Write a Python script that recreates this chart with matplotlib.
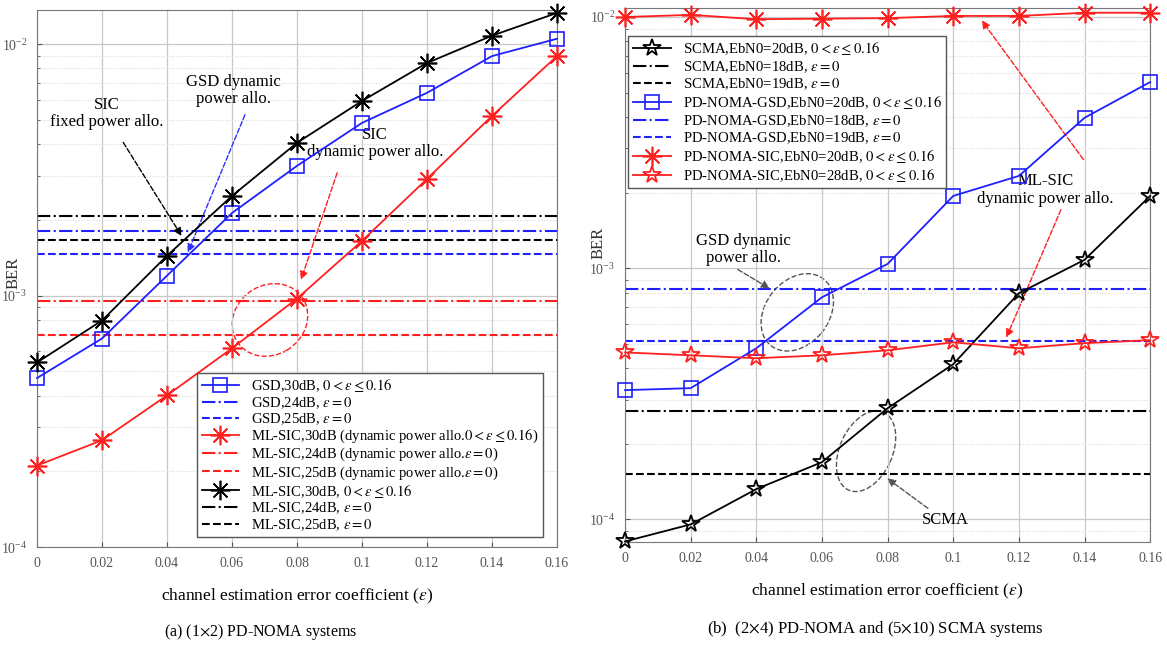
import numpy as np
import matplotlib
matplotlib.use("Agg")
import matplotlib.pyplot as plt
from matplotlib.patches import Ellipse
from matplotlib.ticker import LogLocator, NullFormatter

plt.rcParams['font.family'] = ['Liberation Serif', 'DejaVu Serif']
plt.rcParams['mathtext.fontset'] = 'stix'

# eje x comun
eps = [0, 0.02, 0.04, 0.06, 0.08, 0.10, 0.12, 0.14, 0.16]
eps_labels = ['0', '0.02', '0.04', '0.06', '0.08', '0.1', '0.12', '0.14', '0.16']

# (a) PD-NOMA 1x2
gsd_30 = [4.7e-4, 6.75e-4, 1.2e-3, 2.13e-3, 3.28e-3, 4.86e-3, 6.4e-3, 8.96e-3, 1.05e-2]
mlsic_dyn_30 = [2.11e-4, 2.66e-4, 4.01e-4, 6.17e-4, 9.73e-4, 1.65e-3, 2.91e-3, 5.18e-3, 8.96e-3]
mlsic_30 = [5.42e-4, 7.96e-4, 1.44e-3, 2.49e-3, 4.05e-3, 5.94e-3, 8.41e-3, 1.08e-2, 1.33e-2]
gsd_24 = 1.81e-3
gsd_25 = 1.46e-3
mlsic_dyn_24 = 9.55e-4
mlsic_dyn_25 = 7.0e-4
mlsic_24 = 2.07e-3
mlsic_25 = 1.67e-3

# (b) PD-NOMA 2x4 y SCMA 5x10
scma_20 = [8.17e-5, 9.55e-5, 1.32e-4, 1.69e-4, 2.77e-4, 4.15e-4, 7.95e-4, 1.08e-3, 1.94e-3]
pd_gsd_20 = [3.27e-4, 3.33e-4, 4.8e-4, 7.66e-4, 1.04e-3, 1.94e-3, 2.33e-3, 3.97e-3, 5.51e-3]
pd_sic_20 = [1.0e-2, 1.02e-2, 0.98e-2, 0.985e-2, 0.99e-2, 1.01e-2, 1.01e-2, 1.04e-2, 1.04e-2]
pd_sic_28 = [4.62e-4, 4.5e-4, 4.38e-4, 4.5e-4, 4.71e-4, 5.07e-4, 4.8e-4, 5.03e-4, 5.17e-4]
scma_18 = 2.69e-4
scma_19 = 1.51e-4
pd_gsd_18 = 8.25e-4
pd_gsd_19 = 5.12e-4

ast = (8, 2, 0)  # asterisco estilo MATLAB
rng = r'$0<\varepsilon\leq0.16$'
eq0 = r'$\varepsilon=0$'
flecha = dict(arrowstyle='-|>', ls='--', lw=1, mutation_scale=12)


def estilo(ax, ylim, ylab_pos):
    ax.set_yscale('log')
    ax.set_xlim(0, 0.16)
    ax.set_ylim(*ylim)
    ax.set_xticks(eps)
    ax.set_xticklabels(eps_labels)
    ax.yaxis.set_major_locator(LogLocator(base=10))
    ax.yaxis.set_minor_locator(LogLocator(base=10, subs=np.arange(2, 10)))
    ax.yaxis.set_minor_formatter(NullFormatter())
    ax.grid(True, which='major', color='#c8c8c8', lw=0.9)
    ax.grid(True, which='minor', axis='y', color='#d8d8d8', ls=':', lw=0.8)
    ax.tick_params(which='both', direction='in', labelsize=10, labelcolor='#555555',
                   colors='#555555', pad=7)
    for s in ax.spines.values():
        s.set_color('#777777')
    ax.set_ylabel('BER', fontsize=12, color='#333333')
    ax.yaxis.set_label_coords(*ylab_pos)
    ax.set_xlabel(r'channel estimation error coefficient ($\varepsilon$)', fontsize=12.5, labelpad=12)


def nota(ax, txt, pos, **kw):
    ax.text(pos[0], pos[1], txt, transform=ax.transAxes, ha='center', va='center',
            fontsize=12, linespacing=1.1, **kw)


fig = plt.figure(figsize=(11.67, 6.49), dpi=100)
ax1 = fig.add_axes([0.0317, 0.157, 0.4456, 0.8274])
ax2 = fig.add_axes([0.5356, 0.1649, 0.45, 0.8228])

# ---- panel (a)
estilo(ax1, (1e-4, 10 ** -1.865), (-0.03, 0.51))
ax1.plot(eps, gsd_30, color='#1f1fff', marker='s', ms=10, mfc='none', mew=1.2, lw=1.3,
         clip_on=False, zorder=5, label='GSD,30dB, ' + rng)
ax1.axhline(gsd_24, color='#1f1fff', ls='-.', lw=1.5, label='GSD,24dB, ' + eq0)
ax1.axhline(gsd_25, color='#1f1fff', ls='--', lw=1.5, label='GSD,25dB, ' + eq0)
ax1.plot(eps, mlsic_dyn_30, color='#ff1f1f', marker=ast, ms=14, mew=1.2, lw=1.3,
         clip_on=False, zorder=5, label='ML-SIC,30dB (dynamic power allo.' + rng + ')')
ax1.axhline(mlsic_dyn_24, color='#ff1f1f', ls='-.', lw=1.5,
            label='ML-SIC,24dB (dynamic power allo.' + eq0 + ')')
ax1.axhline(mlsic_dyn_25, color='#ff1f1f', ls='--', lw=1.5,
            label='ML-SIC,25dB (dynamic power allo.' + eq0 + ')')
ax1.plot(eps, mlsic_30, color='black', marker=ast, ms=14, mew=1.2, lw=1.3,
         clip_on=False, zorder=5, label='ML-SIC,30dB, ' + rng)
ax1.axhline(mlsic_24, color='black', ls='-.', lw=1.5, label='ML-SIC,24dB, ' + eq0)
ax1.axhline(mlsic_25, color='black', ls='--', lw=1.5, label='ML-SIC,25dB, ' + eq0)

leg = ax1.legend(loc='lower left', bbox_to_anchor=(0.308, 0.019), fontsize=10.5,
                 labelspacing=0.06, handlelength=2.6, borderpad=0.3, borderaxespad=0,
                 fancybox=False, framealpha=1, edgecolor='#555555')
leg.set_zorder(10)

nota(ax1, 'SIC\nfixed power allo.', (0.135, 0.808))
ax1.annotate('', xy=(0.281, 0.575), xytext=(0.163, 0.758), xycoords='axes fraction',
             arrowprops=dict(flecha, color='black'))
nota(ax1, 'GSD dynamic\npower allo.', (0.377, 0.851))
ax1.annotate('', xy=(0.288, 0.544), xytext=(0.402, 0.81), xycoords='axes fraction',
             arrowprops=dict(flecha, color='#3030ff'))
nota(ax1, 'SIC\ndynamic power allo.', (0.65, 0.752))
ax1.annotate('', xy=(0.506, 0.493), xytext=(0.579, 0.702), xycoords='axes fraction',
             arrowprops=dict(flecha, color='#ff1f1f'))
ax1.add_patch(Ellipse((0.448, 0.423), 0.15, 0.13, angle=30, transform=ax1.transAxes,
                      fill=False, ec='#ff1f1f', ls='--', lw=1))

# ---- panel (b)
estilo(ax2, (10 ** -4.09, 10 ** -1.964), (-0.035, 0.56))
ax2.plot(eps, scma_20, color='black', marker='*', ms=13, mfc='none', mew=1.3, lw=1.3,
         clip_on=False, zorder=5, label='SCMA,EbN0=20dB, ' + rng)
ax2.axhline(scma_18, color='black', ls='-.', lw=1.5, label='SCMA,EbN0=18dB, ' + eq0)
ax2.axhline(scma_19, color='black', ls='--', lw=1.5, label='SCMA,EbN0=19dB, ' + eq0)
ax2.plot(eps, pd_gsd_20, color='#1f1fff', marker='s', ms=10, mfc='none', mew=1.2, lw=1.3,
         clip_on=False, zorder=5, label='PD-NOMA-GSD,EbN0=20dB, ' + rng)
ax2.axhline(pd_gsd_18, color='#1f1fff', ls='-.', lw=1.5, label='PD-NOMA-GSD,EbN0=18dB, ' + eq0)
ax2.axhline(pd_gsd_19, color='#1f1fff', ls='--', lw=1.5, label='PD-NOMA-GSD,EbN0=19dB, ' + eq0)
ax2.plot(eps, pd_sic_20, color='#ff1f1f', marker=ast, ms=14, mew=1.2, lw=1.3,
         clip_on=False, zorder=5, label='PD-NOMA-SIC,EbN0=20dB, ' + rng)
ax2.plot(eps, pd_sic_28, color='#ff1f1f', marker='*', ms=13, mfc='none', mew=1.3, lw=1.3,
         clip_on=False, zorder=5, label='PD-NOMA-SIC,EbN0=28dB, ' + rng)

leg2 = ax2.legend(loc='upper left', bbox_to_anchor=(0.006, 0.948), fontsize=10.6,
                  labelspacing=0.13, handlelength=2.6, borderpad=0.3, borderaxespad=0,
                  fancybox=False, framealpha=1, edgecolor='#555555')
leg2.set_zorder(10)

nota(ax2, 'GSD dynamic\npower allo.', (0.225, 0.547))
ax2.annotate('', xy=(0.28, 0.472), xytext=(0.21, 0.513), xycoords='axes fraction',
             arrowprops=dict(flecha, color='#555555'))
ax2.add_patch(Ellipse((0.328, 0.43), 0.16, 0.12, angle=50, transform=ax2.transAxes,
                      fill=False, ec='#555555', ls='--', lw=1))
nota(ax2, 'ML-SIC\ndynamic power allo.', (0.8, 0.659))
ax2.annotate('', xy=(0.676, 0.981), xytext=(0.876, 0.712), xycoords='axes fraction',
             arrowprops=dict(flecha, color='#ff1f1f'))
ax2.annotate('', xy=(0.724, 0.378), xytext=(0.832, 0.627), xycoords='axes fraction',
             arrowprops=dict(flecha, color='#ff1f1f'))
ax2.add_patch(Ellipse((0.459, 0.17), 0.16, 0.1, angle=65, transform=ax2.transAxes,
                      fill=False, ec='#555555', ls='--', lw=1))
nota(ax2, 'SCMA', (0.61, 0.041))
ax2.annotate('', xy=(0.495, 0.122), xytext=(0.581, 0.06), xycoords='axes fraction',
             arrowprops=dict(flecha, color='#555555'))

fig.text(0.223, 0.02, r'(a) (1$\times$2) PD-NOMA systems', ha='center', fontsize=11.5)
fig.text(0.75, 0.024, r'(b)  (2$\times$4) PD-NOMA and (5$\times$10) SCMA systems', ha='center', fontsize=12)

fig.savefig('out.png', dpi=100)
